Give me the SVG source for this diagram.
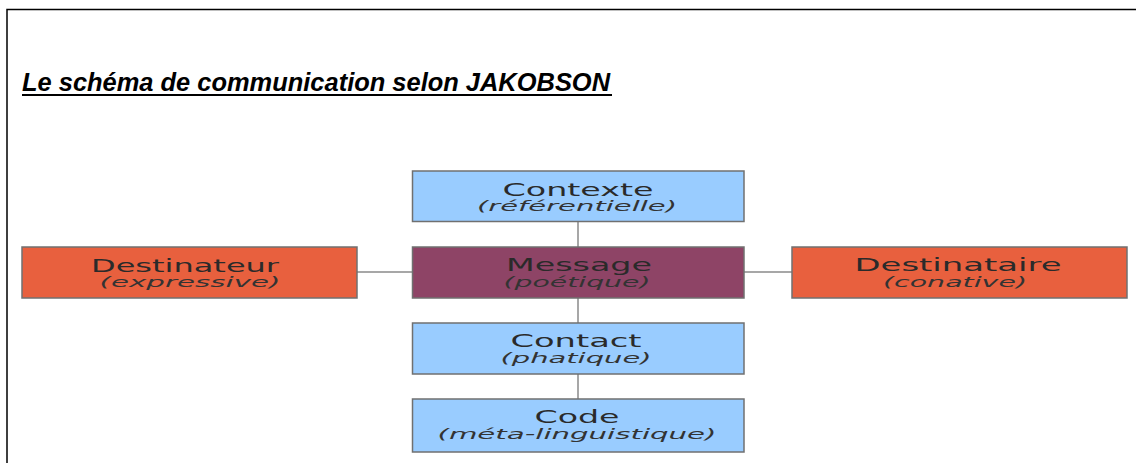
<svg xmlns="http://www.w3.org/2000/svg" width="1136" height="463" viewBox="0 0 1136 463">
<style>
.frame{stroke:#000;stroke-width:1.5;fill:none}
.box{stroke:#707070;stroke-width:1.5}
.blue{fill:#99ccff}
.orange{fill:#e8603e}
.maroon{fill:#8e4466}
.edge{stroke:#8a8a8a;stroke-width:1.5;fill:none}
.t{font-family:"DejaVu Sans",sans-serif;font-size:18px;fill:#2a2a2a;text-anchor:middle}
.s{font-family:"DejaVu Sans",sans-serif;font-size:14px;font-style:italic;fill:#333;text-anchor:middle}
.title{font-family:"Liberation Sans",Arial,sans-serif;font-size:25px;font-weight:bold;font-style:italic;fill:#000}
</style>
<rect width="1136" height="463" fill="#fff"/>
<path class="frame" d="M7,463 V9.5 H1136"/>
<text class="title" x="22" y="91" textLength="588" lengthAdjust="spacingAndGlyphs">Le schéma de communication selon JAKOBSON</text>
<line x1="22" y1="95" x2="612" y2="95" stroke="#000" stroke-width="2"/>
<g id="connectors">
<line class="edge" x1="578" y1="221" x2="578" y2="247"/>
<line class="edge" x1="578" y1="298" x2="578" y2="323"/>
<line class="edge" x1="578" y1="374" x2="578" y2="399"/>
<line class="edge" x1="357" y1="272" x2="412" y2="272"/>
<line class="edge" x1="744" y1="272" x2="792" y2="272"/>
</g>
<g id="contexte">
<rect class="box blue" x="412.5" y="171" width="331.5" height="50.5"/>
<text class="t" x="578" y="196" textLength="151" lengthAdjust="spacingAndGlyphs">Contexte</text>
<text class="s" x="577" y="211" textLength="200" lengthAdjust="spacingAndGlyphs">(référentielle)</text>
</g>
<g id="message">
<rect class="box maroon" x="412.5" y="247" width="331.5" height="51"/>
<text class="t" x="579" y="271" textLength="146" lengthAdjust="spacingAndGlyphs">Message</text>
<text class="s" x="577" y="287" textLength="147" lengthAdjust="spacingAndGlyphs">(poétique)</text>
</g>
<g id="destinateur">
<rect class="box orange" x="22" y="247" width="335" height="51"/>
<text class="t" x="185" y="272" textLength="188" lengthAdjust="spacingAndGlyphs">Destinateur</text>
<text class="s" x="190" y="287" textLength="181" lengthAdjust="spacingAndGlyphs">(expressive)</text>
</g>
<g id="destinataire">
<rect class="box orange" x="792" y="247" width="335" height="51"/>
<text class="t" x="958" y="271" textLength="207" lengthAdjust="spacingAndGlyphs">Destinataire</text>
<text class="s" x="955" y="287" textLength="144" lengthAdjust="spacingAndGlyphs">(conative)</text>
</g>
<g id="contact">
<rect class="box blue" x="412.5" y="323" width="331.5" height="51"/>
<text class="t" x="576" y="347" textLength="131" lengthAdjust="spacingAndGlyphs">Contact</text>
<text class="s" x="576" y="363" textLength="151" lengthAdjust="spacingAndGlyphs">(phatique)</text>
</g>
<g id="code">
<rect class="box blue" x="412.5" y="399" width="331.5" height="53"/>
<text class="t" x="577" y="423" textLength="85" lengthAdjust="spacingAndGlyphs">Code</text>
<text class="s" x="577" y="439" textLength="279" lengthAdjust="spacingAndGlyphs">(méta-linguistique)</text>
</g>
</svg>
